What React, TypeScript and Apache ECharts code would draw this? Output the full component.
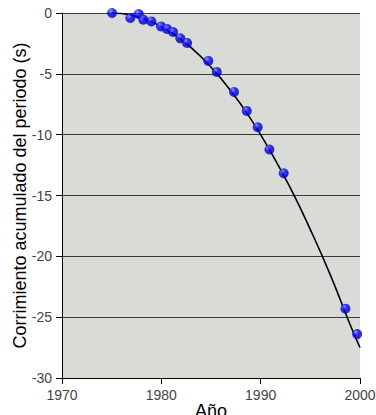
import React, { useEffect, useRef } from "react";
import * as echarts from "echarts";

const obsYears = [1975.04, 1976.88, 1977.72, 1978.19, 1979.0, 1979.97, 1980.57, 1981.18, 1981.91, 1982.59, 1984.73, 1985.58, 1987.32, 1988.6, 1989.7, 1990.88, 1992.32, 1998.53, 1999.71];
const obsShift = [0, -0.41, -0.08, -0.55, -0.69, -1.1, -1.31, -1.56, -2.08, -2.46, -3.94, -4.84, -6.49, -8.05, -9.39, -11.22, -13.17, -24.3, -26.39];

const curveYears = [1975, 1977, 1979, 1981, 1983, 1985, 1987, 1989, 1991, 1993, 1995, 1997, 1999, 2000];
const curveShift = [0, -0.18, -0.71, -1.6, -2.85, -4.45, -6.4, -8.7, -11.4, -14.4, -17.8, -21.5, -25.6, -27.5];

const xTitle = "Año";
const yTitle = "Corrimiento acumulado del periodo (s)";

export default function App() {
  const ref = useRef<HTMLDivElement>(null);
  useEffect(() => {
    document.body.style.margin = "0";
    const chart = echarts.init(ref.current!, null, { renderer: "svg" });
    const font = "Arial, 'Liberation Sans', sans-serif";
    chart.setOption({
      animation: false,
      backgroundColor: "#ffffff",
      grid: {
        left: 62,
        right: 16,
        top: 13,
        bottom: 37,
        containLabel: false,
        outerBoundsMode: "none",
        show: true,
        backgroundColor: "#d9dbd7",
        borderWidth: 0,
      },
      xAxis: {
        type: "value",
        min: 1970,
        max: 2000,
        interval: 10,
        name: xTitle,
        nameLocation: "middle",
        nameGap: 24,
        nameMoveOverlap: false,
        nameTextStyle: { fontFamily: font, fontSize: 18, color: "#000" },
        axisLine: { show: true, onZero: false, lineStyle: { color: "#000", width: 1 } },
        axisTick: { show: true, length: 6, lineStyle: { color: "#000" } },
        axisLabel: { fontFamily: font, fontSize: 14, color: "#444", margin: 10, formatter: (v: number) => String(v) },
        splitLine: { show: false },
      },
      yAxis: {
        type: "value",
        min: -30,
        max: 0,
        interval: 5,
        name: yTitle,
        nameLocation: "middle",
        nameRotate: 90,
        nameGap: 33,
        nameMoveOverlap: false,
        nameTextStyle: { fontFamily: font, fontSize: 18, color: "#000" },
        axisLine: { show: true, onZero: false, lineStyle: { color: "#000", width: 1 } },
        axisTick: { show: true, length: 6, lineStyle: { color: "#000" } },
        axisLabel: { fontFamily: font, fontSize: 14, color: "#444", margin: 10 },
        splitLine: { show: true, lineStyle: { color: "#3a3a3a", width: 1 } },
      },
      series: [
        {
          type: "line",
          data: curveYears.map((x, i) => [x, curveShift[i]]),
          smooth: true,
          showSymbol: false,
          lineStyle: { color: "#000", width: 1.6 },
          z: 2,
        },
        {
          type: "scatter",
          data: obsYears.map((x, i) => [x, obsShift[i]]),
          symbolSize: 10,
          itemStyle: {
            color: new echarts.graphic.RadialGradient(0.35, 0.3, 0.7, [
              { offset: 0, color: "#8080ff" },
              { offset: 0.45, color: "#0000ff" },
              { offset: 1, color: "#00009a" },
            ]),
          },
          z: 3,
        },
      ],
    });
    return () => chart.dispose();
  }, []);
  return <div ref={ref} style={{ position: "fixed", left: 0, top: 0, width: 376, height: 415 }} />;
}
